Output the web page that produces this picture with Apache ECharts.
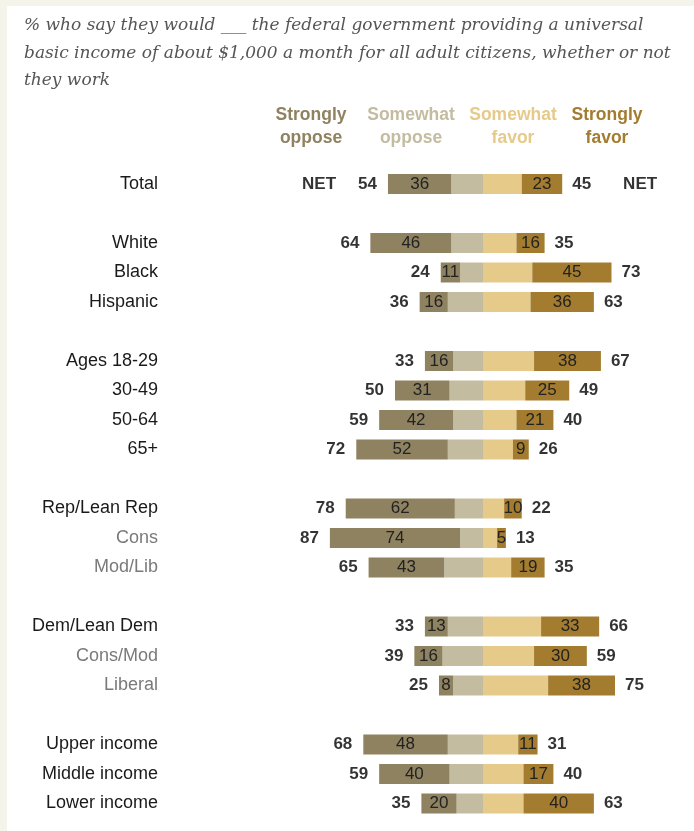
<!DOCTYPE html>
<html>
<head>
<meta charset="utf-8">
<script src="https://cdn.jsdelivr.net/npm/echarts@6/dist/echarts.min.js"></script>
<style>
  html, body { margin: 0; padding: 0; background: #fff; }
  #chart { width: 694px; height: 831px; }
</style>
</head>
<body>
<div id="chart"></div>
<script>
// rows ('' = spacer between groups)
var groups = ['Total', '', 'White', 'Black', 'Hispanic', '',
  'Ages 18-29', '30-49', '50-64', '65+', '',
  'Rep/Lean Rep', 'Cons', 'Mod/Lib', '',
  'Dem/Lean Dem', 'Cons/Mod', 'Liberal', '',
  'Upper income', 'Middle income', 'Lower income'];
var subGroups = ['Cons', 'Mod/Lib', 'Cons/Mod', 'Liberal'];

var stronglyOppose = [36, null, 46, 11, 16, null, 16, 31, 42, 52, null, 62, 74, 43, null, 13, 16, 8, null, 48, 40, 20];
var netOppose      = [54, null, 64, 24, 36, null, 33, 50, 59, 72, null, 78, 87, 65, null, 33, 39, 25, null, 68, 59, 35];
var stronglyFavor  = [23, null, 16, 45, 36, null, 38, 25, 21, 9, null, 10, 5, 19, null, 33, 30, 38, null, 11, 17, 40];
var netFavor       = [45, null, 35, 73, 63, null, 67, 49, 40, 26, null, 22, 13, 35, null, 66, 59, 75, null, 31, 40, 63];

var colors = {
  so: '#8f8260',
  wo: '#c4bca0',
  wf: '#e6ca89',
  sf: '#a37c2f'
};

var somewhatOppose = netOppose.map(function (v, i) { return v == null ? null : -(v - stronglyOppose[i]); });
var somewhatFavor = netFavor.map(function (v, i) { return v == null ? null : v - stronglyFavor[i]; });

var labelFont = 'Liberation Sans, Arial, sans-serif';

var chart = echarts.init(document.getElementById('chart'));
var option = {
  backgroundColor: '#fff',
  animation: false,
  grid: { left: 307, right: 35, top: 169.25, height: 649 },
  xAxis: {
    type: 'value', min: -100, max: 100,
    show: false
  },
  yAxis: {
    type: 'category',
    inverse: true,
    data: groups,
    axisLine: { show: false },
    axisTick: { show: false },
    splitLine: { show: false },
    axisLabel: {
      margin: 149,
      formatter: function (v) {
        return subGroups.indexOf(v) >= 0 ? '{s|' + v + '}' : '{m|' + v + '}';
      },
      rich: {
        m: { fontFamily: labelFont, fontSize: 18, color: '#1a1a1a' },
        s: { fontFamily: labelFont, fontSize: 18, color: '#7a7a7a' }
      }
    }
  },
  series: [
    {
      name: 'Somewhat oppose', type: 'bar', stack: 'all', barWidth: 20,
      itemStyle: { color: colors.wo },
      data: somewhatOppose
    },
    {
      name: 'Strongly oppose', type: 'bar', stack: 'all', barWidth: 20,
      itemStyle: { color: colors.so },
      label: {
        show: true, position: 'inside', color: '#222',
        fontFamily: labelFont, fontSize: 17,
        formatter: function (p) { return p.value == null ? '' : -p.value; }
      },
      data: stronglyOppose.map(function (v) { return v == null ? null : -v; })
    },
    {
      name: 'Somewhat favor', type: 'bar', stack: 'all', barWidth: 20,
      itemStyle: { color: colors.wf },
      data: somewhatFavor
    },
    {
      name: 'Strongly favor', type: 'bar', stack: 'all', barWidth: 20,
      itemStyle: { color: colors.sf },
      label: {
        show: true, position: 'inside', color: '#222',
        fontFamily: labelFont, fontSize: 17
      },
      data: stronglyFavor
    },
    {
      name: 'NET oppose', type: 'scatter', symbolSize: 0,
      label: {
        show: true, position: 'left', distance: 11,
        formatter: function (p) {
          return p.dataIndex === 0 ? '{n|NET}{v|' + (-p.value[0]) + '}' : '{v|' + (-p.value[0]) + '}';
        },
        rich: {
          v: { fontFamily: labelFont, fontSize: 17, fontWeight: 'bold', color: '#000' },
          n: { fontFamily: labelFont, fontSize: 17, fontWeight: 'bold', color: '#000', padding: [0, 22, 0, 0] }
        }
      },
      data: netOppose.map(function (v, i) { return v == null ? null : [-v, i]; }).filter(function (d) { return d; })
    },
    {
      name: 'NET favor', type: 'scatter', symbolSize: 0,
      label: {
        show: true, position: 'right', distance: 10,
        formatter: function (p) {
          return p.dataIndex === 0 ? '{v|' + p.value[0] + '}{n|NET}' : '{v|' + p.value[0] + '}';
        },
        rich: {
          v: { fontFamily: labelFont, fontSize: 17, fontWeight: 'bold', color: '#000' },
          n: { fontFamily: labelFont, fontSize: 17, fontWeight: 'bold', color: '#000', padding: [0, 0, 0, 32] }
        }
      },
      data: netFavor.map(function (v, i) { return v == null ? null : [v, i]; }).filter(function (d) { return d; })
    }
  ],
  graphic: [
    { type: 'rect', left: 0, top: 0, shape: { width: 694, height: 6 }, style: { fill: '#f4f4ea' } },
    { type: 'rect', left: 0, top: 0, shape: { width: 7, height: 831 }, style: { fill: '#f4f4ea' } },
    {
      type: 'text', left: 24, top: 12,
      style: {
        text: '% who say they would ___ the federal government providing a universal\nbasic income of about $1,000 a month for all adult citizens, whether or not\nthey work',
        fontFamily: 'DejaVu Serif, serif', fontStyle: 'italic', fontSize: 17,
        lineHeight: 27.5, fill: '#555'
      }
    },
    { type: 'text', x: 311, y: 127, style: { text: 'Strongly\noppose', align: 'center', verticalAlign: 'middle', lineHeight: 23, fontFamily: labelFont, fontWeight: 'bold', fontSize: 17.5, fill: colors.so } },
    { type: 'text', x: 411, y: 127, style: { text: 'Somewhat\noppose', align: 'center', verticalAlign: 'middle', lineHeight: 23, fontFamily: labelFont, fontWeight: 'bold', fontSize: 17.5, fill: colors.wo } },
    { type: 'text', x: 513, y: 127, style: { text: 'Somewhat\nfavor', align: 'center', verticalAlign: 'middle', lineHeight: 23, fontFamily: labelFont, fontWeight: 'bold', fontSize: 17.5, fill: colors.wf } },
    { type: 'text', x: 607, y: 127, style: { text: 'Strongly\nfavor', align: 'center', verticalAlign: 'middle', lineHeight: 23, fontFamily: labelFont, fontWeight: 'bold', fontSize: 17.5, fill: colors.sf } }
  ]
};
chart.setOption(option);
</script>
</body>
</html>
